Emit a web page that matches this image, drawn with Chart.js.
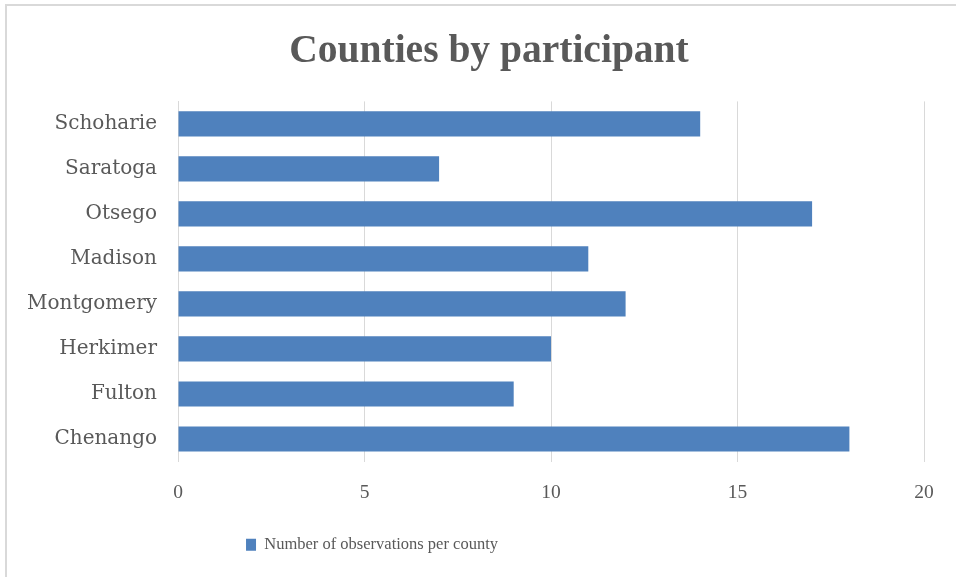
<!DOCTYPE html>
<html>
<head>
<meta charset="utf-8">
<title>Counties by participant</title>
<script src="https://cdn.jsdelivr.net/npm/chart.js@4"></script>
<style>
    html, body { margin: 0; padding: 0; background: #ffffff; }
    #chartBox { width: 956px; height: 577px; }
</style>
</head>
<body>
<div id="chartBox"><canvas id="graficoCondados" width="956" height="577"></canvas></div>
<script>
// Datos del gráfico (de arriba hacia abajo)
const condados = ['Schoharie', 'Saratoga', 'Otsego', 'Madison', 'Montgomery', 'Herkimer', 'Fulton', 'Chenango'];
const observaciones = [14, 7, 17, 11, 12, 10, 9, 18];
const ticksX = [0, 5, 10, 15, 20];

const colorBarra = '#4f81bd';
const colorTexto = '#595959';
const colorGrid = '#d9d9d9';

/**
 * Fondo blanco, borde exterior y desplazamiento de título / leyenda
 */
const fondoPlugin = {
    id: 'fondo',
    afterLayout(chart) {
        // El título y la leyenda no quedan centrados en el original
        if (chart.titleBlock) {
            chart.titleBlock.left += 27;
            chart.titleBlock.right += 27;
        }
        if (chart.legend) {
            chart.legend.left -= 90;
            chart.legend.right -= 90;
        }
    },
    beforeDraw(chart) {
        const ctx = chart.ctx;
        ctx.save();
        ctx.fillStyle = '#ffffff';
        ctx.fillRect(0, 0, chart.width, chart.height);
        // Solo se ve el borde izquierdo y el superior (imagen recortada)
        ctx.strokeStyle = '#d9d9d9';
        ctx.lineWidth = 2;
        ctx.beginPath();
        ctx.moveTo(6, chart.height);
        ctx.lineTo(6, 5);
        ctx.lineTo(chart.width, 5);
        ctx.stroke();
        ctx.restore();
    }
};

const ctx = document.getElementById('graficoCondados').getContext('2d');

new Chart(ctx, {
    type: 'bar',
    data: {
        labels: condados,
        datasets: [{
            label: 'Number of observations per county',
            data: observaciones,
            backgroundColor: colorBarra,
            borderWidth: 0,
            categoryPercentage: 0.56,
            barPercentage: 1.0
        }]
    },
    options: {
        indexAxis: 'y',
        responsive: false,
        animation: false,
        layout: {
            padding: { left: 0, right: 32, top: 0, bottom: 14 }
        },
        plugins: {
            title: {
                display: true,
                text: 'Counties by participant',
                color: colorTexto,
                font: { family: "'Liberation Serif', serif", size: 39.5, weight: 'bold', lineHeight: 1.2 },
                padding: { top: 28, bottom: 26 }
            },
            legend: {
                display: true,
                position: 'bottom',
                labels: {
                    color: colorTexto,
                    boxWidth: 10,
                    boxHeight: 12,
                    padding: 10,
                    font: { family: "'Liberation Serif', serif", size: 16.5 }
                }
            },
            tooltip: { enabled: false }
        },
        scales: {
            x: {
                min: 0,
                max: 20,
                afterBuildTicks(scale) {
                    scale.ticks = ticksX.map(v => ({ value: v }));
                },
                afterFit(scale) {
                    scale.height = 65;
                },
                border: { display: false },
                grid: { color: colorGrid, lineWidth: 1, drawTicks: false },
                ticks: {
                    color: colorTexto,
                    padding: 20,
                    font: { family: "'Liberation Serif', serif", size: 19.5 }
                }
            },
            y: {
                afterFit(scale) {
                    scale.width = 178;
                },
                border: { display: true, color: colorGrid, width: 1 },
                grid: { display: false, drawTicks: false },
                ticks: {
                    color: colorTexto,
                    padding: 21,
                    font: { family: "'DejaVu Serif', serif", size: 20 }
                }
            }
        }
    },
    plugins: [fondoPlugin]
});
</script>
</body>
</html>
